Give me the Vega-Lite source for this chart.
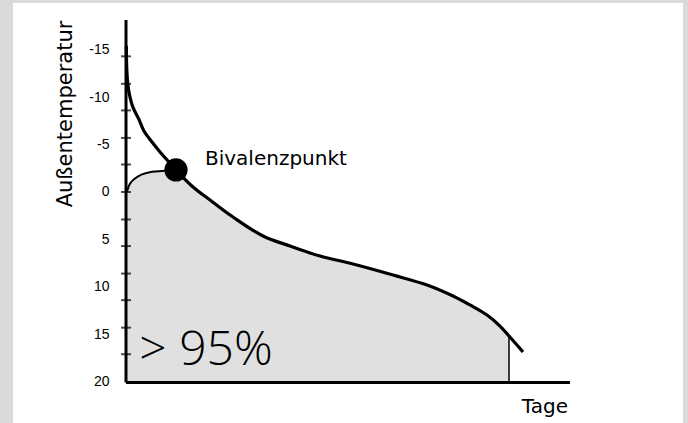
{
  "$schema": "https://vega.github.io/schema/vega-lite/v6.json",
  "width": 670,
  "height": 420,
  "autosize": {"type": "none"},
  "padding": {"left": 13, "top": 3, "right": 5, "bottom": 0},
  "background": "#dadada",
  "config": {
    "view": {"stroke": null, "fill": "#ffffff"},
    "axisY": {"labelFont": "Liberation Sans", "labelFontSize": 14, "labelColor": "#000000"}
  },
  "datasets": {
    "main": [
      {"x": 0.08, "y": -15.4},
      {"x": 0.18, "y": -12.9},
      {"x": 0.45, "y": -11.2},
      {"x": 0.9, "y": -10.0},
      {"x": 1.5, "y": -9.0},
      {"x": 2.86, "y": -7.7},
      {"x": 4.05, "y": -6.43},
      {"x": 5.86, "y": -5.27},
      {"x": 7.66, "y": -4.22},
      {"x": 9.46, "y": -3.27},
      {"x": 11.26, "y": -2.32},
      {"x": 15.09, "y": -0.53},
      {"x": 18.92, "y": 0.84},
      {"x": 24.1, "y": 2.64},
      {"x": 30.86, "y": 4.64},
      {"x": 36.94, "y": 5.69},
      {"x": 43.69, "y": 6.75},
      {"x": 51.13, "y": 7.59},
      {"x": 60.14, "y": 8.75},
      {"x": 67.79, "y": 9.8},
      {"x": 73.65, "y": 10.96},
      {"x": 77.48, "y": 11.91},
      {"x": 81.31, "y": 12.97},
      {"x": 84.23, "y": 14.13},
      {"x": 86.26, "y": 15.18},
      {"x": 88.06, "y": 16.13},
      {"x": 89.41, "y": 16.87}
    ],
    "lower": [
      {"x": 0.2, "y": 0.0},
      {"x": 0.95, "y": -0.91},
      {"x": 2.08, "y": -1.44},
      {"x": 3.6, "y": -1.86},
      {"x": 5.86, "y": -2.14},
      {"x": 8.1, "y": -2.21},
      {"x": 9.8, "y": -2.25},
      {"x": 11.26, "y": -2.32}
    ],
    "fill": [
      {"x": 0.2, "y": 0.0, "base": 20},
      {"x": 0.95, "y": -0.91, "base": 20},
      {"x": 2.08, "y": -1.44, "base": 20},
      {"x": 3.6, "y": -1.86, "base": 20},
      {"x": 5.86, "y": -2.14, "base": 20},
      {"x": 8.1, "y": -2.21, "base": 20},
      {"x": 9.8, "y": -2.25, "base": 20},
      {"x": 11.26, "y": -2.32, "base": 20},
      {"x": 15.09, "y": -0.53, "base": 20},
      {"x": 18.92, "y": 0.84, "base": 20},
      {"x": 24.1, "y": 2.64, "base": 20},
      {"x": 30.86, "y": 4.64, "base": 20},
      {"x": 36.94, "y": 5.69, "base": 20},
      {"x": 43.69, "y": 6.75, "base": 20},
      {"x": 51.13, "y": 7.59, "base": 20},
      {"x": 60.14, "y": 8.75, "base": 20},
      {"x": 67.79, "y": 9.8, "base": 20},
      {"x": 73.65, "y": 10.96, "base": 20},
      {"x": 77.48, "y": 11.91, "base": 20},
      {"x": 81.31, "y": 12.97, "base": 20},
      {"x": 84.23, "y": 14.13, "base": 20},
      {"x": 86.26, "y": 15.18, "base": 20}
    ],
    "vlines": [
      {"x": 0, "y": -18.13, "y2": 20.07, "kind": "axis"},
      {"x": 86.26, "y": 15.18, "y2": 20, "kind": "edge"}
    ],
    "hlines": [
      {"x": 0, "x2": 100, "y": 20.07}
    ],
    "ticks": [
      {"x": 0, "t": -14.3}, {"x": 0, "t": -11.4}, {"x": 0, "t": -8.6}, {"x": 0, "t": -5.7},
      {"x": 0, "t": -2.9}, {"x": 0, "t": 0}, {"x": 0, "t": 2.9}, {"x": 0, "t": 5.7},
      {"x": 0, "t": 8.6}, {"x": 0, "t": 11.4}, {"x": 0, "t": 14.3}, {"x": 0, "t": 17.1}
    ],
    "bival": [{"x": 11.26, "y": -2.32}]
  },
  "layer": [
    {
      "data": {"name": "fill"},
      "mark": {"type": "area", "color": "#e0e0e0", "interpolate": "catmull-rom"},
      "encoding": {
        "x": {"field": "x", "type": "quantitative", "scale": {"domain": [-25.45, 125.45], "nice": false, "zero": false}, "axis": null},
        "y": {"field": "y", "type": "quantitative", "scale": {"domain": [-19.92, 24.35], "nice": false, "zero": false, "reverse": true},
          "axis": {"values": [-15, -10, -5, 0, 5, 10, 15, 20], "offset": -113, "domain": false, "ticks": false, "grid": false,
            "labelPadding": 17, "labelFont": "Liberation Sans", "labelFontSize": 14, "labelColor": "#000000",
            "labelExpr": "'' + datum.value", "title": null}},
        "y2": {"field": "base"}
      }
    },
    {
      "data": {"name": "lower"},
      "mark": {"type": "line", "color": "#000000", "strokeWidth": 2, "interpolate": "catmull-rom"},
      "encoding": {
        "x": {"field": "x", "type": "quantitative"},
        "y": {"field": "y", "type": "quantitative"}
      }
    },
    {
      "data": {"name": "main"},
      "mark": {"type": "line", "color": "#000000", "strokeWidth": 3.2, "interpolate": "catmull-rom"},
      "encoding": {
        "x": {"field": "x", "type": "quantitative"},
        "y": {"field": "y", "type": "quantitative"}
      }
    },
    {
      "data": {"name": "vlines"},
      "mark": {"type": "rule", "color": "#000000"},
      "encoding": {
        "x": {"field": "x", "type": "quantitative"},
        "y": {"field": "y", "type": "quantitative"},
        "y2": {"field": "y2"},
        "strokeWidth": {"field": "kind", "type": "nominal", "scale": {"domain": ["axis", "edge"], "range": [3, 1.5]}, "legend": null}
      }
    },
    {
      "data": {"name": "hlines"},
      "mark": {"type": "rule", "color": "#000000", "strokeWidth": 3},
      "encoding": {
        "x": {"field": "x", "type": "quantitative"},
        "x2": {"field": "x2"},
        "y": {"field": "y", "type": "quantitative"}
      }
    },
    {
      "data": {"name": "ticks"},
      "mark": {"type": "tick", "color": "#000000", "orient": "horizontal", "size": 10, "thickness": 2},
      "encoding": {
        "x": {"field": "x", "type": "quantitative"},
        "y": {"field": "t", "type": "quantitative"}
      }
    },
    {
      "data": {"name": "bival"},
      "mark": {"type": "point", "filled": true, "color": "#000000", "opacity": 1, "size": 540},
      "encoding": {
        "x": {"field": "x", "type": "quantitative"},
        "y": {"field": "y", "type": "quantitative"}
      }
    },
    {
      "data": {"values": [{"label": "Bivalenzpunkt", "x": 17.79, "y": -2.85}]},
      "mark": {"type": "text", "font": "DejaVu Sans", "fontSize": 20, "align": "left", "baseline": "alphabetic", "color": "#000000"},
      "encoding": {
        "x": {"field": "x", "type": "quantitative"},
        "y": {"field": "y", "type": "quantitative"},
        "text": {"field": "label"}
      }
    },
    {
      "data": {"values": [{"label": "> 95%", "x": 3.0, "y": 18.24}]},
      "mark": {"type": "text", "font": "Open Sans", "fontWeight": 300, "fontSize": 48, "align": "left", "baseline": "alphabetic", "color": "#000000"},
      "encoding": {
        "x": {"field": "x", "type": "quantitative"},
        "y": {"field": "y", "type": "quantitative"},
        "text": {"field": "label"}
      }
    },
    {
      "data": {"values": [{"label": "Tage", "x": 99.55, "y": 23.3}]},
      "mark": {"type": "text", "font": "DejaVu Sans", "fontSize": 20, "align": "right", "baseline": "alphabetic", "color": "#000000"},
      "encoding": {
        "x": {"field": "x", "type": "quantitative"},
        "y": {"field": "y", "type": "quantitative"},
        "text": {"field": "label"}
      }
    },
    {
      "data": {"values": [{"label": "Außentemperatur", "x": -12.16, "y": -8.22}]},
      "mark": {"type": "text", "font": "DejaVu Sans", "fontSize": 21, "align": "center", "baseline": "alphabetic", "angle": 270, "color": "#000000"},
      "encoding": {
        "x": {"field": "x", "type": "quantitative"},
        "y": {"field": "y", "type": "quantitative"},
        "text": {"field": "label"}
      }
    }
  ]
}
